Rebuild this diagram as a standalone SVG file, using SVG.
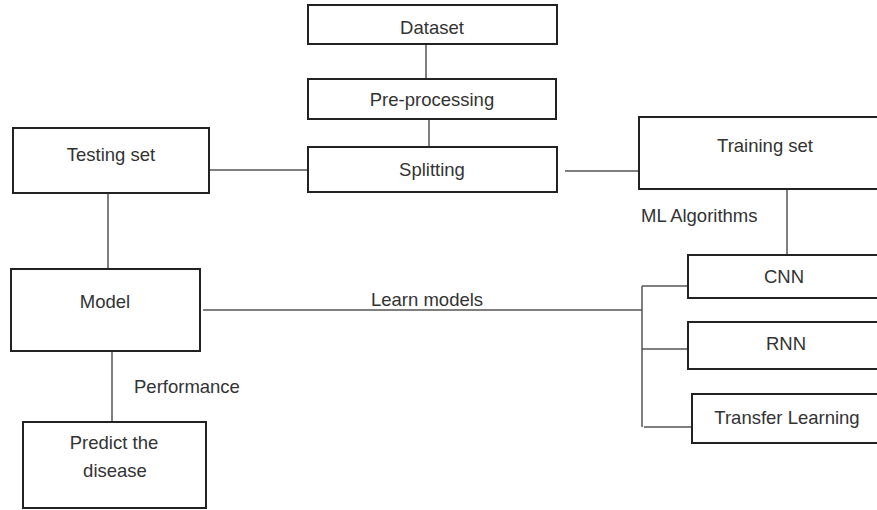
<svg xmlns="http://www.w3.org/2000/svg" width="877" height="510" viewBox="0 0 877 510">
<style>
.box{fill:#fff;stroke:#222;stroke-width:2}
.ln{stroke:#555;stroke-width:1.5;fill:none}
text{font-family:"Liberation Sans",Arial,sans-serif;font-size:18.5px;fill:#333}
.c{text-anchor:middle}
</style>
<rect width="877" height="510" fill="#fff"/>
<g id="connectors">
<line class="ln" x1="426" y1="44" x2="426" y2="79"/>
<line class="ln" x1="429" y1="119" x2="429" y2="147"/>
<line class="ln" x1="209" y1="170" x2="308" y2="170"/>
<line class="ln" x1="565" y1="171" x2="639" y2="171"/>
<line class="ln" x1="108" y1="193" x2="108" y2="269"/>
<line class="ln" x1="787" y1="189" x2="787" y2="255"/>
<line class="ln" x1="203" y1="310" x2="642" y2="310"/>
<line class="ln" x1="642" y1="286" x2="642" y2="427"/>
<line class="ln" x1="642" y1="286" x2="688" y2="286"/>
<line class="ln" x1="642" y1="349" x2="688" y2="349"/>
<line class="ln" x1="644" y1="427" x2="692" y2="427"/>
<line class="ln" x1="112" y1="352" x2="112" y2="422"/>
<text x="641" y="222">ML Algorithms</text>
<text x="371" y="306">Learn models</text>
<text x="134" y="393">Performance</text>
</g>
<g id="dataset"><rect class="box" x="308" y="5" width="249" height="39"/><text class="c" x="432" y="34">Dataset</text></g>
<g id="preprocessing"><rect class="box" x="308" y="79" width="248" height="40"/><text class="c" x="432" y="106">Pre-processing</text></g>
<g id="splitting"><rect class="box" x="308" y="147" width="249" height="45"/><text class="c" x="432" y="176">Splitting</text></g>
<g id="testing"><rect class="box" x="13" y="128" width="196" height="65"/><text class="c" x="111" y="161">Testing set</text></g>
<g id="training"><rect class="box" x="639" y="117" width="260" height="72"/><text class="c" x="765" y="152">Training set</text></g>
<g id="cnn"><rect class="box" x="688" y="255" width="210" height="43"/><text class="c" x="784" y="283">CNN</text></g>
<g id="rnn"><rect class="box" x="688" y="322" width="210" height="47"/><text class="c" x="786" y="350">RNN</text></g>
<g id="transfer"><rect class="box" x="692" y="394" width="210" height="49"/><text class="c" x="787" y="424">Transfer Learning</text></g>
<g id="model"><rect class="box" x="11" y="269" width="189" height="82"/><text class="c" x="105" y="308">Model</text></g>
<g id="predict"><rect class="box" x="23" y="422" width="183" height="86"/><text class="c" x="114" y="449">Predict the</text><text class="c" x="115" y="477">disease</text></g>
</svg>
